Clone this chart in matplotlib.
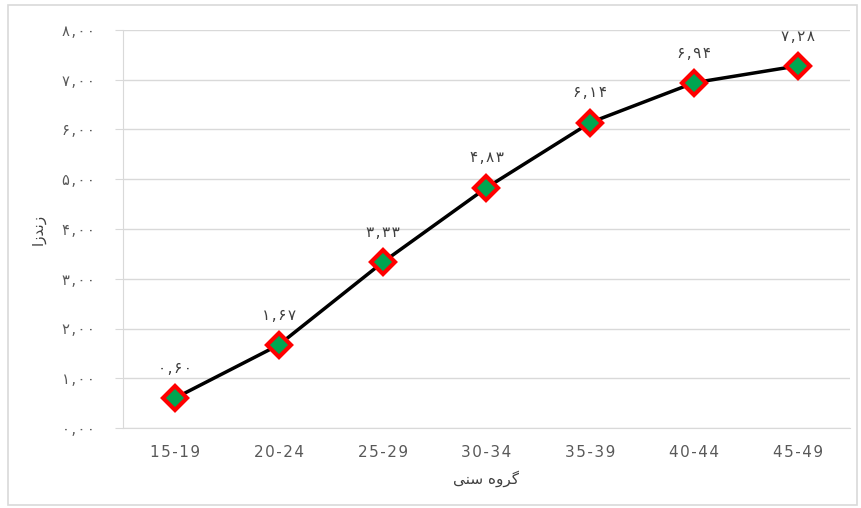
import matplotlib
matplotlib.use("Agg")
import matplotlib.pyplot as plt
from matplotlib.patches import Rectangle

categories = ["15-19", "20-24", "25-29", "30-34", "35-39", "40-44", "45-49"]
values = [0.60, 1.67, 3.33, 4.83, 6.14, 6.94, 7.28]
yticks = [0, 1, 2, 3, 4, 5, 6, 7, 8]

# Persian (Extended Arabic-Indic) digits
fa_digits = str.maketrans("0123456789", "۰۱۲۳۴۵۶۷۸۹")
SP = "\u200A"
def spaced(s):
    return SP.join(s)
def fa(v):
    return spaced(f"{v:.2f}".replace(".", ",").translate(fa_digits))

# pre-shaped, visually ordered Persian labels
ylabel_txt = "\uFE8D\uFEAF\uFEAA\uFEE7\uFEAF"          # زندزا
xlabel_txt = "\uFBFD\uFEE8\uFEB3 \uFEE9\uFEED\uFEAE\uFB94"  # گروه سنی

plt.rcParams['font.family'] = ['DejaVu Sans']

fig = plt.figure(figsize=(8.61, 5.08), dpi=100)
fig.patches.append(Rectangle((8/861, 3/508), 849/861, 500/508, transform=fig.transFigure,
                             fill=False, edgecolor="#d9d9d9", linewidth=1.2))
ax = fig.add_axes([123/861, 80/508, 727/861, 398/508])

x = list(range(len(categories)))
ax.plot(x, values, color="black", linewidth=2.5, zorder=3)
ax.plot(x, values, linestyle="none", marker="D", markersize=12,
        markerfacecolor="#00a651", markeredgecolor="#ff0000", markeredgewidth=3, zorder=4)
for xi, v in zip(x, values):
    ax.annotate(fa(v), (xi, v), xytext=(0, 16), textcoords="offset points",
                ha="center", va="bottom", fontsize=11, color="#404040")

ax.set_xlim(-0.5, len(categories) - 0.5)
ax.set_ylim(0, 8)
ax.set_yticks(yticks)
ax.set_yticklabels([fa(t) for t in yticks], fontsize=10.5, color="#595959")
ax.set_xticks(x)
ax.set_xticklabels([spaced(c) for c in categories], fontsize=11, color="#595959")
ax.tick_params(axis="x", length=0, pad=12)
ax.tick_params(axis="y", length=6, color="#d9d9d9", pad=14)
ax.grid(axis="y", color="#d9d9d9", linewidth=1)
ax.set_axisbelow(True)
for s in ["top", "right"]:
    ax.spines[s].set_visible(False)
ax.spines["left"].set_color("#d9d9d9")
ax.spines["bottom"].set_color("#d9d9d9")

ax.set_ylabel(ylabel_txt, fontsize=11, color="#404040", labelpad=12)
ax.set_xlabel(xlabel_txt, fontsize=11, color="#404040", labelpad=8)

fig.savefig("out.png", dpi=100)
